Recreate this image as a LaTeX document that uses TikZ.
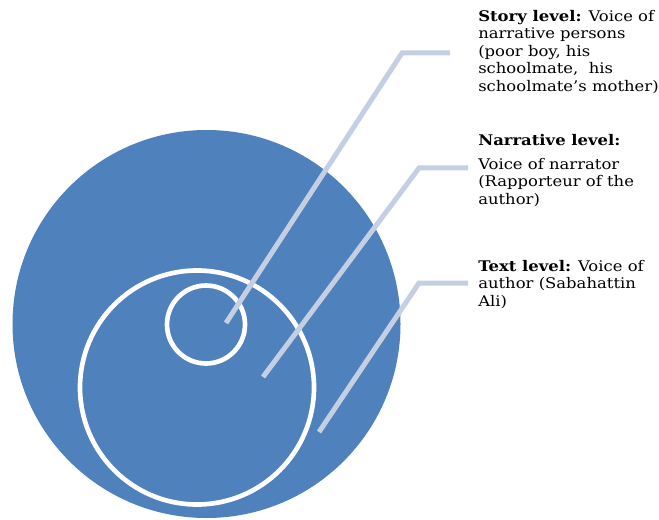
\documentclass[tikz,border=0pt]{standalone}
\usepackage{fontspec}
\setmainfont[FakeStretch=1.12]{DejaVu Serif}
\definecolor{discblue}{RGB}{79,129,189}
\definecolor{leadercol}{RGB}{196,207,227}
\tikzset{
  leader/.style={draw=leadercol, line width=3.75pt, line cap=butt, line join=miter},
  ring/.style={draw=white, line width=3.5pt},
  lbl/.style={anchor=north west, inner sep=0pt, align=left,
    font=\fontsize{11pt}{13.1pt}\selectfont}
}
\begin{document}
\begin{tikzpicture}[x=0.75pt,y=-0.75pt]
\useasboundingbox (0,0) rectangle (659,520);
% discs
\fill[discblue] (206.5,324) circle [radius=194];
\draw[ring] (197,387.5) circle [radius=117];
\draw[ring] (206,324.5) circle [radius=39];
% leader coordinates
\coordinate (s1) at (226,323);
\coordinate (s2) at (402,53);
\coordinate (s3) at (450,53);
\coordinate (n1) at (263,377);
\coordinate (n2) at (419,168);
\coordinate (n3) at (468,168);
\coordinate (t1) at (319,432);
\coordinate (t2) at (419,283);
\coordinate (t3) at (468,283);
\draw[leader] (s1) -- (s2) -- (s3);
\draw[leader] (n1) -- (n2) -- (n3);
\draw[leader] (t1) -- (t2) -- (t3);
% labels
\node[lbl] (story) at (478,10) {\textbf{Story level:} Voice of\\narrative persons\\(poor boy, his\\schoolmate,\ \ his\\schoolmate's mother)};
\node[lbl] (narr) at (478,134) {\textbf{Narrative level:}};
\node[lbl] (narrtxt) at (478,158) {Voice of narrator\\(Rapporteur of the\\author)};
\node[lbl] (textl) at (478,260) {\textbf{Text level:} Voice of\\author (Sabahattin\\Ali)};
\end{tikzpicture}
\end{document}
